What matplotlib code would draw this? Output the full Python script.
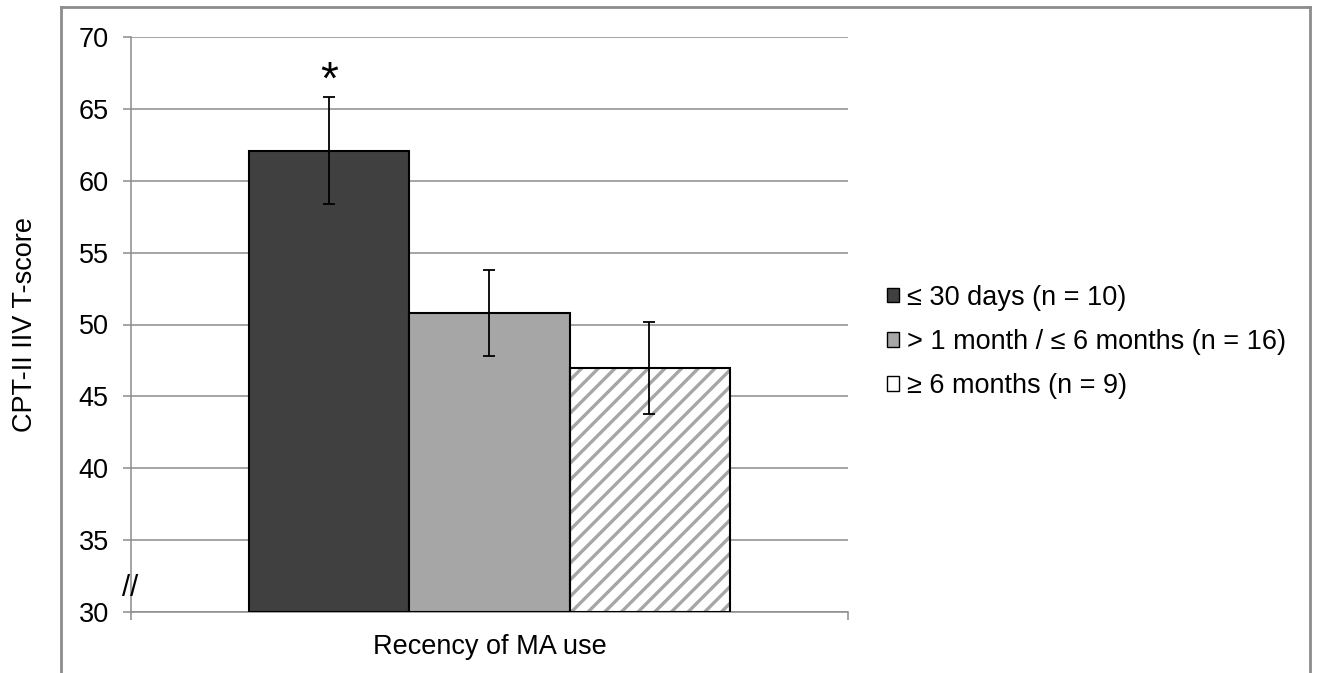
import matplotlib
matplotlib.use("Agg")
import matplotlib.pyplot as plt
from matplotlib.patches import Patch
from matplotlib.lines import Line2D

plt.rcParams['font.family'] = ['Liberation Sans', 'DejaVu Sans']
plt.rcParams['hatch.linewidth'] = 2.4

# data
groups = ['≤ 30 days (n = 10)', '> 1 month / ≤ 6 months (n = 16)', '≥ 6 months (n = 9)']
means = [62.1, 50.8, 47.0]
err_low = [58.4, 47.8, 43.8]
err_high = [65.8, 53.8, 50.2]
y_ticks = [30, 35, 40, 45, 50, 55, 60, 65, 70]
x_label = 'Recency of MA use'
y_label = 'CPT-II IIV T-score'

W, H = 1318, 673
FS = 19.5
fig = plt.figure(figsize=(W / 100, H / 100), dpi=100)
ax = fig.add_axes([131 / W, (H - 612) / H, 717 / W, 575 / H])

GRID = '#8c8c8c'
fills = ['#404040', '#a6a6a6', 'white']
bw = 160 / 717
xs = [0.5 - bw, 0.5, 0.5 + bw]
yerr = [[m - lo for m, lo in zip(means, err_low)],
        [hi - m for m, hi in zip(means, err_high)]]

for i in range(3):
    if i == 2:
        ax.bar(xs[i], means[i] - 30, bottom=30, width=bw, color='white',
               edgecolor='#a6a6a6', hatch='//', linewidth=0, zorder=2)
        ax.bar(xs[i], means[i] - 30, bottom=30, width=bw, fill=False,
               edgecolor='black', linewidth=1.5, zorder=3)
    else:
        ax.bar(xs[i], means[i] - 30, bottom=30, width=bw, color=fills[i],
               edgecolor='black', linewidth=1.5, zorder=3)
ax.errorbar(xs, means, yerr=yerr, fmt='none', ecolor='black',
            elinewidth=1.3, capsize=4.5, capthick=1.3, zorder=4)

ax.text(xs[0], 66.9, '*', ha='center', va='center', fontsize=33)

ax.set_xlim(0, 1)
ax.set_ylim(30, 70)
ax.set_yticks(y_ticks)
ax.set_xticks([0, 1])
ax.set_xticklabels(['', ''])
ax.tick_params(axis='y', length=6, width=1.1, color=GRID, pad=10, labelsize=FS)
ax.tick_params(axis='x', length=6, width=1.1, color=GRID, direction='out')
ax.grid(axis='y', color=GRID, linewidth=1.1, zorder=0)
ax.set_axisbelow(True)
for s in ['top', 'right']:
    ax.spines[s].set_visible(False)
for s in ['left', 'bottom']:
    ax.spines[s].set_color(GRID)
    ax.spines[s].set_linewidth(1.1)
ax.set_xlabel(x_label, fontsize=FS, labelpad=6)

# axis break mark
ax.text(-0.0015, 31.7, '//', ha='center', va='center', fontsize=21,
        clip_on=False)

fig.text(25 / W, (H - 325) / H, y_label, rotation=90, ha='center',
         va='center', fontsize=FS)

# outer frame
for (x0, y0, x1, y1) in [(61, 7, 1310, 7), (61, 7, 61, H), (1310, 7, 1310, H)]:
    fig.add_artist(Line2D([x0 / W, x1 / W], [1 - y0 / H, 1 - y1 / H],
                          transform=fig.transFigure, color=GRID, linewidth=2))

handles = [Patch(facecolor=fills[0], edgecolor='black', linewidth=1),
           Patch(facecolor=fills[1], edgecolor='black', linewidth=1),
           Patch(facecolor='white', edgecolor='black', linewidth=1)]
fig.legend(handles, groups, loc='center left',
           bbox_to_anchor=(887 / W, (H - 342) / H), frameon=False,
           fontsize=FS, handlelength=0.45, handleheight=0.45,
           handletextpad=0.3, labelspacing=0.68, borderpad=0, borderaxespad=0)

fig.savefig('out.png', dpi=100, facecolor='white')
